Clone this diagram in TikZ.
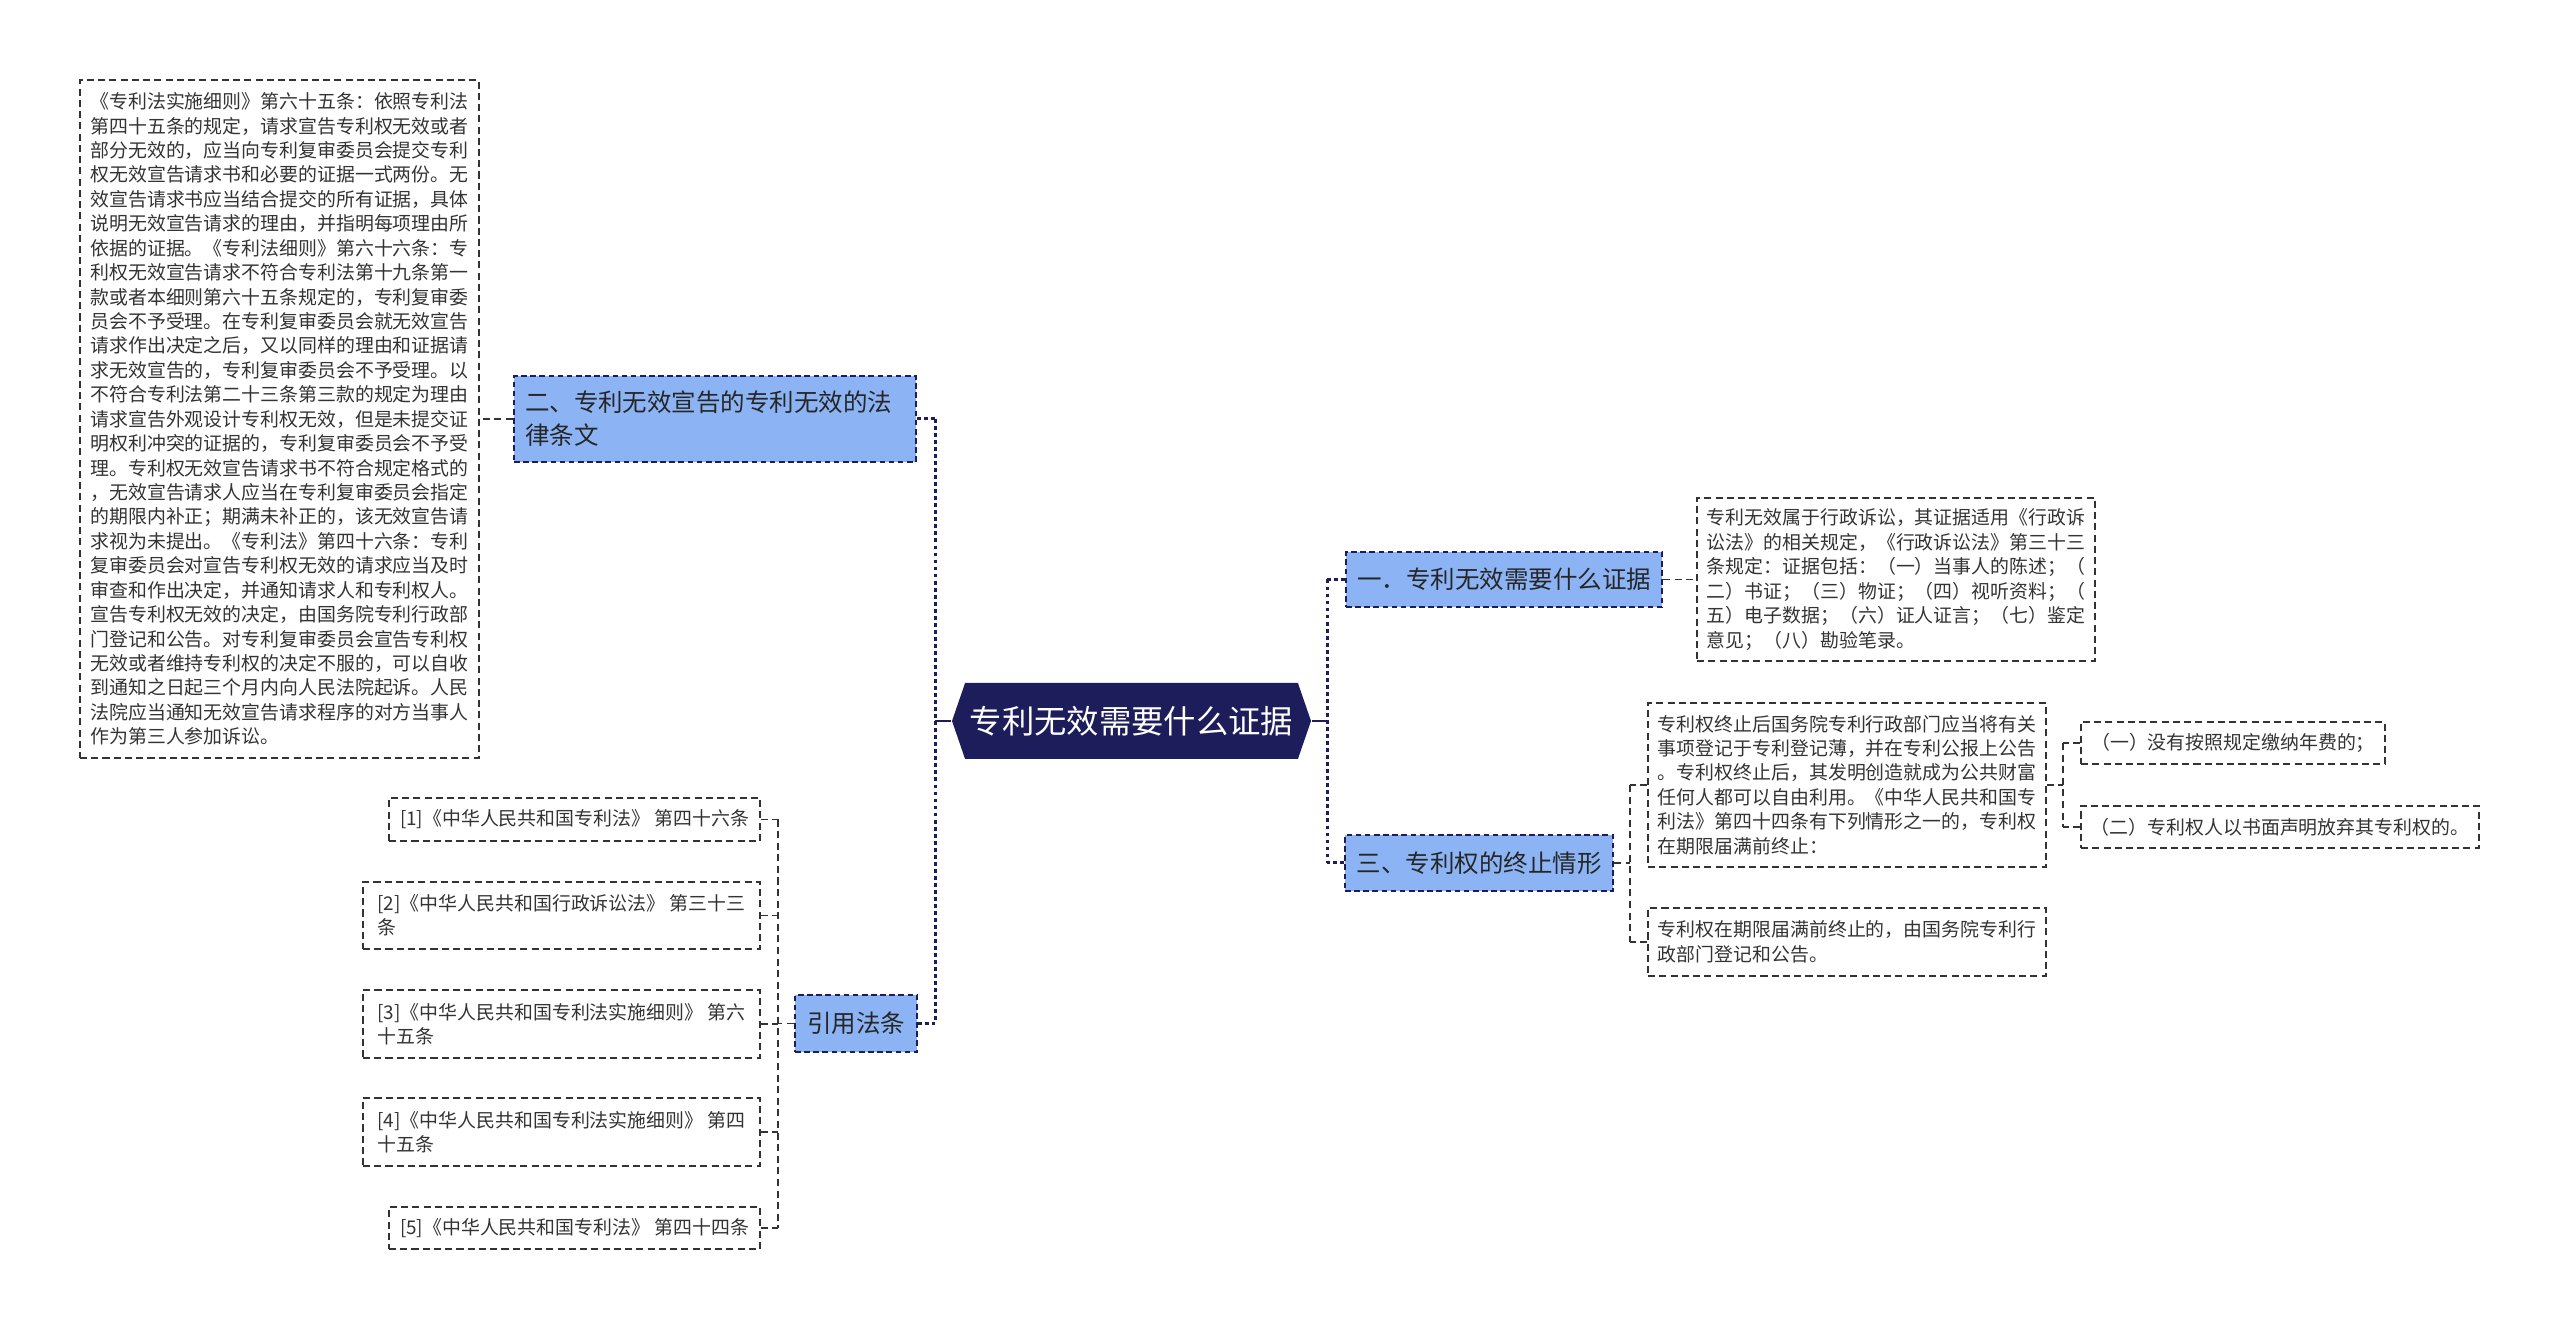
\documentclass[tikz,border=0pt]{standalone}
\usepackage{fontspec}
\setmainfont{Noto Sans CJK SC}
\usepackage{xcolor}
\usepackage{tikz}
\usetikzlibrary{shapes.symbols}
\definecolor{tsNavy}{HTML}{1D1D5B}
\definecolor{tsBlue}{HTML}{8CB4F5}
\definecolor{tsInk}{HTML}{333333}
\tikzstyle{tsSmall} = [
    text=tsInk,
    font=\fontsize{5.38}{6.95}\selectfont
]
\tikzstyle{tsLeaf} = [
    tsSmall,
    rectangle,
    draw=tsInk,
    line width=0.45pt,
    dash pattern=on 2pt off 1.2pt,
    inner sep=0pt,
    align=left]
\tikzstyle{tsTopic} = [
    rectangle,
    fill=tsBlue,
    draw=tsNavy,
    line width=0.6pt,
    dash pattern=on 1.6pt off 1pt,
    text=black!85,
    font=\fontsize{6.97}{9.4}\selectfont,
    inner sep=0pt,
    align=left]
\tikzstyle{tsHub} = [
    signal,
    signal to=west and east,
    signal pointer angle=142,
    fill=tsNavy,
    text=white,
    font=\fontsize{9.2}{11}\selectfont,
    inner sep=0pt]
\tikzstyle{tsBus} = [draw=tsNavy, line width=0.85pt, dash pattern=on 1.1pt off 0.9pt]
\tikzstyle{tsLink} = [draw=tsInk, line width=0.5pt, dash pattern=on 2pt off 1.3pt]
\tikzstyle{tsStem} = [draw=tsNavy, line width=0.7pt]
\begin{document}
\begin{tikzpicture}
    \useasboundingbox (0,0) rectangle (25.6,13.31);

    % centre
    \node[tsHub, minimum width=3.59cm, minimum height=0.76cm] (hub) at (11.315,6.10) {专利无效需要什么证据};

    % left side
    \node[tsTopic, minimum width=4.02cm, minimum height=0.86cm,
          text width=3.80cm, inner xsep=0.11cm] (secTwo) at (7.15,9.12)
          {二、专利无效宣告的专利无效的法\\律条文};
    \node[tsTopic, minimum width=1.22cm, minimum height=0.57cm] (cite) at (8.56,3.075) {引用法条};

    \node[tsLeaf, minimum width=3.99cm, minimum height=6.78cm] (lawText) at (2.795,9.12) {%
        《专利法实施细则》第六十五条：依照专利法\\
        第四十五条的规定，请求宣告专利权无效或者\\
        部分无效的，应当向专利复审委员会提交专利\\
        权无效宣告请求书和必要的证据一式两份。无\\
        效宣告请求书应当结合提交的所有证据，具体\\
        说明无效宣告请求的理由，并指明每项理由所\\
        依据的证据。《专利法细则》第六十六条：专\\
        利权无效宣告请求不符合专利法第十九条第一\\
        款或者本细则第六十五条规定的，专利复审委\\
        员会不予受理。在专利复审委员会就无效宣告\\
        请求作出决定之后，又以同样的理由和证据请\\
        求无效宣告的，专利复审委员会不予受理。以\\
        不符合专利法第二十三条第三款的规定为理由\\
        请求宣告外观设计专利权无效，但是未提交证\\
        明权利冲突的证据的，专利复审委员会不予受\\
        理。专利权无效宣告请求书不符合规定格式的\\
        ，无效宣告请求人应当在专利复审委员会指定\\
        的期限内补正；期满未补正的，该无效宣告请\\
        求视为未提出。《专利法》第四十六条：专利\\
        复审委员会对宣告专利权无效的请求应当及时\\
        审查和作出决定，并通知请求人和专利权人。\\
        宣告专利权无效的决定，由国务院专利行政部\\
        门登记和公告。对专利复审委员会宣告专利权\\
        无效或者维持专利权的决定不服的，可以自收\\
        到通知之日起三个月内向人民法院起诉。人民\\
        法院应当通知无效宣告请求程序的对方当事人\\
        作为第三人参加诉讼。};

    \node[tsLeaf, minimum width=3.71cm, minimum height=0.43cm] (cite1) at (5.745,5.115)
        {[1]《中华人民共和国专利法》 第四十六条};
    \node[tsLeaf, minimum width=3.97cm, minimum height=0.67cm] (cite2) at (5.615,4.155)
        {[2]《中华人民共和国行政诉讼法》 第三十三\\条};
    \node[tsLeaf, minimum width=3.97cm, minimum height=0.68cm] (cite3) at (5.615,3.07)
        {[3]《中华人民共和国专利法实施细则》 第六\\十五条};
    \node[tsLeaf, minimum width=3.97cm, minimum height=0.68cm] (cite4) at (5.615,1.99)
        {[4]《中华人民共和国专利法实施细则》 第四\\十五条};
    \node[tsLeaf, minimum width=3.71cm, minimum height=0.42cm] (cite5) at (5.745,1.03)
        {[5]《中华人民共和国专利法》 第四十四条};

    % right side
    \node[tsTopic, minimum width=3.16cm, minimum height=0.55cm] (secOne) at (15.04,7.515) {一．专利无效需要什么证据};
    \node[tsTopic, minimum width=2.68cm, minimum height=0.56cm] (secThree) at (14.79,4.68) {三、专利权的终止情形};

    \node[tsLeaf, minimum width=3.98cm, minimum height=1.63cm] (evidence) at (18.96,7.515) {%
        专利无效属于行政诉讼，其证据适用《行政诉\\
        讼法》的相关规定，《行政诉讼法》第三十三\\
        条规定：证据包括：（一）当事人的陈述；（\\
        二）书证；（三）物证；（四）视听资料；（\\
        五）电子数据；（六）证人证言；（七）鉴定\\
        意见；（八）勘验笔录。};
    \node[tsLeaf, minimum width=3.98cm, minimum height=1.64cm] (endText) at (18.47,5.46) {%
        专利权终止后国务院专利行政部门应当将有关\\
        事项登记于专利登记薄，并在专利公报上公告\\
        。专利权终止后，其发明创造就成为公共财富\\
        任何人都可以自由利用。《中华人民共和国专\\
        利法》第四十四条有下列情形之一的，专利权\\
        在期限届满前终止：};
    \node[tsLeaf, minimum width=3.98cm, minimum height=0.68cm] (endNote) at (18.47,3.89) {%
        专利权在期限届满前终止的，由国务院专利行\\
        政部门登记和公告。};
    \node[tsLeaf, minimum width=3.04cm, minimum height=0.42cm] (endCaseA) at (22.33,5.88)
        {（一）没有按照规定缴纳年费的；};
    \node[tsLeaf, minimum width=3.98cm, minimum height=0.42cm] (endCaseB) at (22.80,5.04)
        {（二）专利权人以书面声明放弃其专利权的。};

    % bus points
    \coordinate (busL) at (9.35,6.10);
    \coordinate (busR) at (13.27,6.10);
    \coordinate (busCite) at (7.78,3.075);
    \coordinate (busEnd) at (16.30,4.68);
    \coordinate (busCase) at (20.63,5.46);

    % connectors, left
    \draw[tsStem] (hub.west) -- (busL);
    \draw[tsBus] (busL |- secTwo.east) -- (busL |- cite.east);
    \draw[tsBus] (secTwo.east) -- (busL |- secTwo.east);
    \draw[tsBus] (cite.east) -- (busL |- cite.east);
    \draw[tsLink] (secTwo.west) -- (lawText.east);
    \draw[tsLink] (cite.west) -- (busCite);
    \draw[tsLink] (busCite |- cite1.east) -- (busCite |- cite5.east);
    \foreach \i in {1,...,5}
        \draw[tsLink] (cite\i.east) -- (busCite |- cite\i.east);

    % connectors, right
    \draw[tsStem] (hub.east) -- (busR);
    \draw[tsBus] (busR |- secOne.west) -- (busR |- secThree.west);
    \draw[tsBus] (secOne.west) -- (busR |- secOne.west);
    \draw[tsBus] (secThree.west) -- (busR |- secThree.west);
    \draw[tsLink] (secOne.east) -- (evidence.west);
    \draw[tsLink] (secThree.east) -- (busEnd);
    \draw[tsLink] (busEnd |- endText.west) -- (busEnd |- endNote.west);
    \draw[tsLink] (endText.west) -- (busEnd |- endText.west);
    \draw[tsLink] (endNote.west) -- (busEnd |- endNote.west);
    \draw[tsLink] (endText.east) -- (busCase);
    \draw[tsLink] (busCase |- endCaseA.west) -- (busCase |- endCaseB.west);
    \draw[tsLink] (endCaseA.west) -- (busCase |- endCaseA.west);
    \draw[tsLink] (endCaseB.west) -- (busCase |- endCaseB.west);
\end{tikzpicture}
\end{document}
